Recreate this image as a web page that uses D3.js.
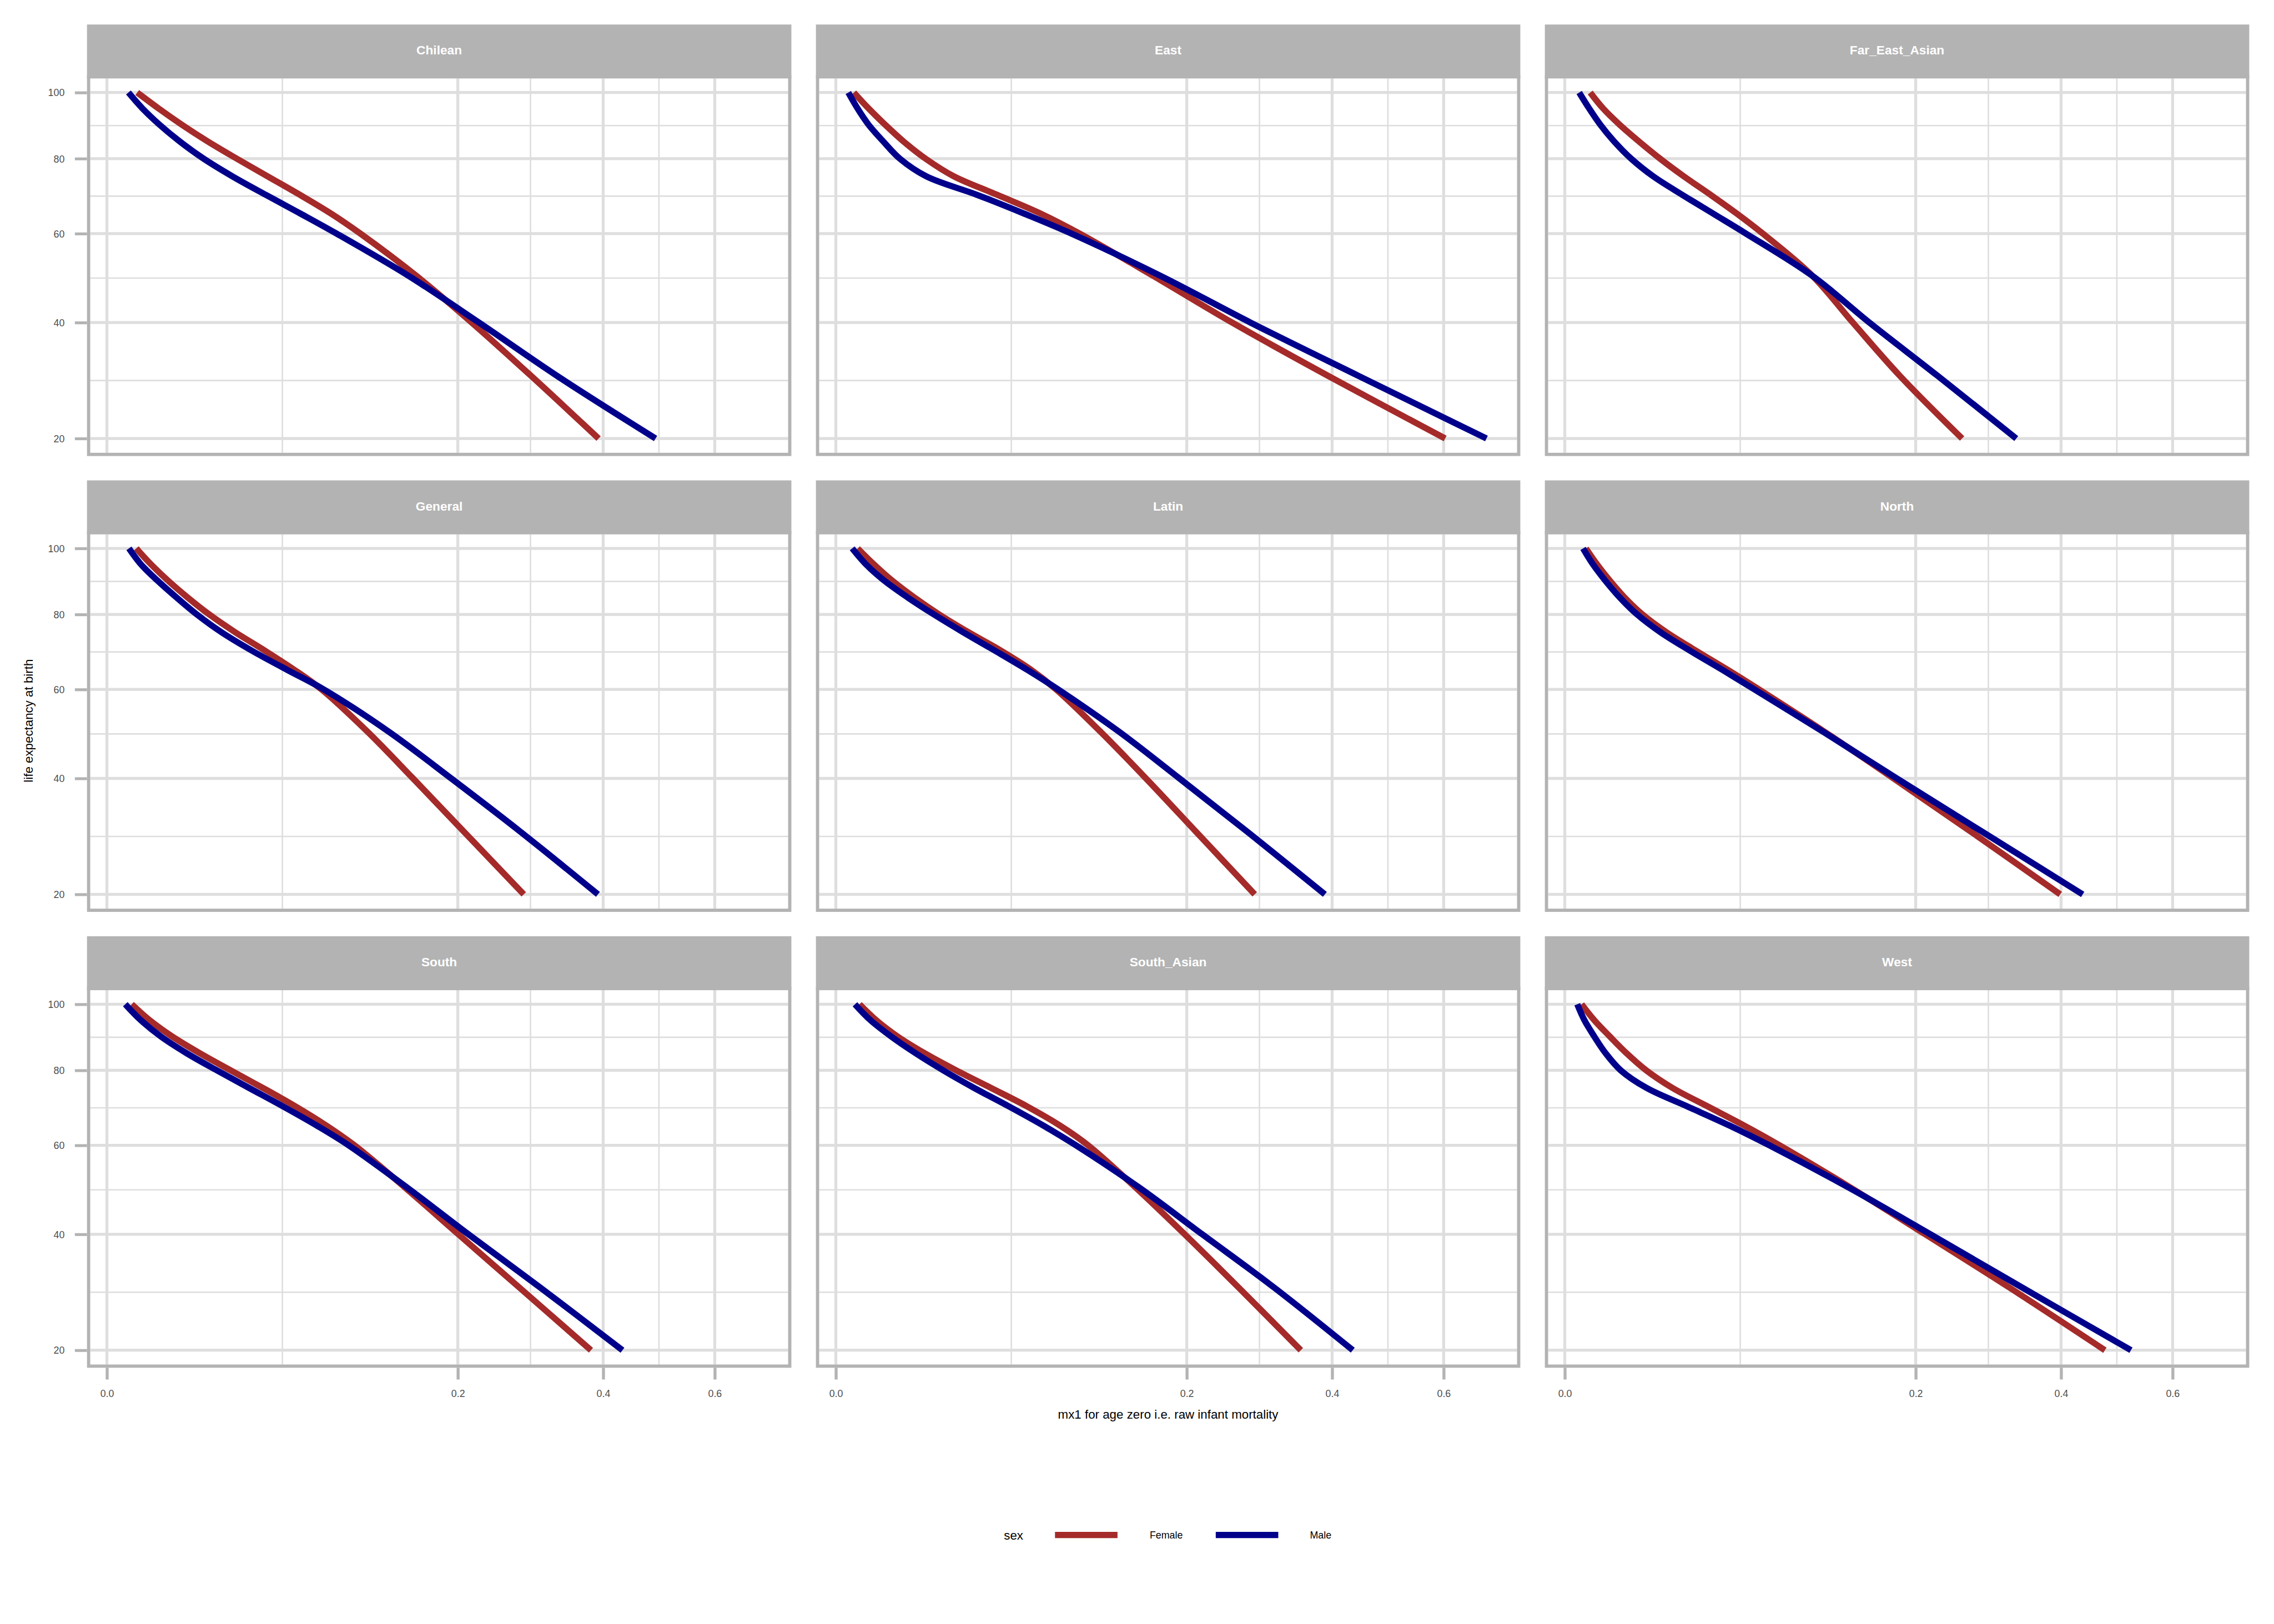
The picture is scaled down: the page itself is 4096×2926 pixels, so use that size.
<!DOCTYPE html>
<html>
<head>
<meta charset="utf-8">
<script src="https://cdn.jsdelivr.net/npm/d3@7"></script>
<style>
html,body{margin:0;padding:0;background:#ffffff;}
svg{display:block;}
</style>
</head>
<body>
<script>
// ---------------- data ----------------
const panels = ["Chilean","East","Far_East_Asian","General","Latin","North","South","South_Asian","West"];
const lifeExpectancy = [100,95,90,85,80,75,70,65,60,50,40,30,20];
const femaleMx = [
  [0.001493,0.004316,0.009099,0.01648,0.02734,0.04200,0.06044,0.08185,0.10437,0.15550,0.21617,0.29178,0.39265],
  [0.000526,0.001735,0.003934,0.007417,0.01304,0.02264,0.04222,0.06846,0.09659,0.16354,0.25505,0.39279,0.60295],
  [0.001051,0.002381,0.004880,0.008917,0.01472,0.02303,0.03449,0.04824,0.06371,0.09960,0.13474,0.18212,0.25636],
  [0.001402,0.003142,0.006037,0.01051,0.01702,0.02672,0.04051,0.05693,0.07485,0.11028,0.15220,0.20677,0.28222],
  [0.000776,0.002336,0.005128,0.009916,0.01736,0.02859,0.04426,0.06183,0.07887,0.11373,0.15624,0.21040,0.28496],
  [0.000728,0.001683,0.003281,0.005767,0.009809,0.01678,0.02790,0.04298,0.06130,0.10952,0.17562,0.26748,0.39863],
  [0.000998,0.002948,0.006883,0.01394,0.02484,0.03966,0.05782,0.07815,0.09952,0.14436,0.20064,0.27592,0.38056],
  [0.000911,0.002639,0.006165,0.01275,0.02350,0.03929,0.05947,0.08159,0.10340,0.14596,0.19761,0.26316,0.35113],
  [0.000459,0.001407,0.003281,0.006167,0.01078,0.01895,0.03319,0.05224,0.07499,0.13263,0.21100,0.32053,0.47374]
];
const maleMx = [
  [0.000752,0.002047,0.004491,0.008603,0.01516,0.02562,0.04093,0.06109,0.08567,0.14779,0.22484,0.32851,0.48886],
  [0.000253,0.000763,0.001735,0.003646,0.006633,0.01331,0.03230,0.05788,0.09016,0.17120,0.27925,0.44268,0.68751],
  [0.000337,0.000962,0.002050,0.003948,0.007137,0.01272,0.02240,0.03593,0.05335,0.09960,0.15065,0.22537,0.33104],
  [0.000789,0.001874,0.004142,0.007805,0.01315,0.02133,0.03410,0.05255,0.07645,0.12905,0.19255,0.27727,0.39161],
  [0.000434,0.001464,0.003788,0.008309,0.01562,0.02634,0.04107,0.05935,0.08025,0.13023,0.19173,0.27456,0.38840],
  [0.000542,0.001285,0.002658,0.004878,0.008501,0.01487,0.02543,0.04019,0.05850,0.10829,0.17904,0.28240,0.43562],
  [0.000548,0.001854,0.004702,0.01027,0.01962,0.03298,0.05048,0.07149,0.09492,0.14641,0.21223,0.30465,0.43169],
  [0.000592,0.001936,0.004946,0.01029,0.01874,0.03122,0.04870,0.06987,0.09363,0.14947,0.21799,0.31154,0.43400],
  [0.000253,0.000622,0.001407,0.002696,0.005087,0.01094,0.02444,0.04406,0.06797,0.13089,0.21716,0.33920,0.52062]
];
const xTicks = [0, 0.2, 0.4, 0.6];
const xTickLabels = ["0.0","0.2","0.4","0.6"];
const yTicks = [20, 40, 60, 80, 100];
const sexes = ["Female","Male"];
const sexColors = ["#A52A2A","#00008B"];
const xTitle = "mx1 for age zero i.e. raw infant mortality";
const yTitle = "life expectancy at birth";
const legendTitle = "sex";

// ---------------- layout (reference pixels, scaled by 0.975) ----------------
const S = 0.975;
const FONT = "'Liberation Sans', Arial, Helvetica, sans-serif";
const colPitch = 1346.65, rowPitch = 842.4;
const outerL = 160.7, outerW = 1301.3;
const stripTop = 45.3, stripBottom = 145, outerBottom = 842.7;
const bw = 6;
const innerL = outerL + bw, innerR = outerL + outerW - bw, innerB = outerBottom - bw;

const x = d3.scaleSqrt().domain([0, 0.6]).range([197.5, 1320.4]);
const y = d3.scaleSqrt().domain([20, 100]).range([810.3, 171]);

function sqrtMids(arr){
  const out = [];
  for (let i = 0; i < arr.length - 1; i++) {
    const m = (Math.sqrt(arr[i]) + Math.sqrt(arr[i+1])) / 2;
    out.push(m * m);
  }
  return out;
}
const xMinor = sqrtMids(xTicks);
const yMinor = sqrtMids(yTicks);

const svg = d3.select("body").append("svg")
  .attr("width", 4096).attr("height", 2926)
  .style("font-family", FONT);
svg.append("rect").attr("width", 4096).attr("height", 2926).attr("fill", "#ffffff");
const root = svg.append("g").attr("transform", `scale(${S})`);

const line = d3.line().curve(d3.curveCatmullRom.alpha(0.5));

panels.forEach((name, i) => {
  const col = i % 3, row = Math.floor(i / 3);
  const p = root.append("g").attr("transform", `translate(${col * colPitch},${row * rowPitch})`);

  // minor grid
  p.selectAll(".ymin").data(yMinor).join("line")
    .attr("x1", innerL).attr("x2", innerR)
    .attr("y1", d => y(d)).attr("y2", d => y(d))
    .attr("stroke", "#DEDEDE").attr("stroke-width", 2.7);
  p.selectAll(".xmin").data(xMinor).join("line")
    .attr("y1", stripBottom).attr("y2", innerB)
    .attr("x1", d => x(d)).attr("x2", d => x(d))
    .attr("stroke", "#DEDEDE").attr("stroke-width", 2.7);
  // major grid
  p.selectAll(".ymaj").data(yTicks).join("line")
    .attr("x1", innerL).attr("x2", innerR)
    .attr("y1", d => y(d)).attr("y2", d => y(d))
    .attr("stroke", "#DEDEDE").attr("stroke-width", 5.4);
  p.selectAll(".xmaj").data(xTicks).join("line")
    .attr("y1", stripBottom).attr("y2", innerB)
    .attr("x1", d => x(d)).attr("x2", d => x(d))
    .attr("stroke", "#DEDEDE").attr("stroke-width", 5.4);

  // series lines
  [femaleMx[i], maleMx[i]].forEach((vals, s) => {
    const pts = lifeExpectancy.map((le, j) => [x(vals[j]), y(le)]);
    p.append("path").attr("d", line(pts))
      .attr("fill", "none").attr("stroke", sexColors[s])
      .attr("stroke-width", 11.5).attr("stroke-linecap", "butt").attr("stroke-linejoin", "round");
  });

  // panel border
  p.append("rect")
    .attr("x", outerL + bw / 2).attr("y", stripBottom - bw - 0.5 + bw / 2)
    .attr("width", outerW - bw).attr("height", outerBottom - (stripBottom - bw - 0.5) - bw)
    .attr("fill", "none").attr("stroke", "#B3B3B3").attr("stroke-width", bw);

  // strip
  p.append("rect").attr("x", outerL).attr("y", stripTop)
    .attr("width", outerW).attr("height", stripBottom - stripTop)
    .attr("fill", "#B3B3B3");
  p.append("text").attr("x", outerL + outerW / 2).attr("y", 101)
    .attr("text-anchor", "middle").attr("fill", "#ffffff")
    .attr("font-weight", "bold").attr("font-size", 23.3).text(name);

  // y axis (left column)
  if (col === 0) {
    const ax = p.append("g").attr("transform", `translate(${outerL},0)`)
      .call(d3.axisLeft(y).tickValues(yTicks).tickSize(22.4).tickSizeOuter(0).tickPadding(19).tickFormat(d3.format("d")));
    ax.select(".domain").remove();
    ax.attr("font-family", FONT);
    ax.selectAll(".tick line").attr("stroke", "#B3B3B3").attr("stroke-width", 5.3);
    ax.selectAll(".tick text").attr("fill", "#4D4D4D").attr("font-size", 18.3).attr("dy", "0.35em");
  }
  // x axis (bottom row)
  if (row === 2) {
    const ax = p.append("g").attr("transform", `translate(0,${outerBottom})`)
      .call(d3.axisBottom(x).tickValues(xTicks).tickSize(21.7).tickSizeOuter(0).tickPadding(19.5)
        .tickFormat((d, k) => xTickLabels[k]));
    ax.select(".domain").remove();
    ax.attr("font-family", FONT);
    ax.selectAll(".tick line").attr("stroke", "#B3B3B3").attr("stroke-width", 5.5);
    ax.selectAll(".tick text").attr("fill", "#4D4D4D").attr("font-size", 18.3);
  }
});

// axis titles
root.append("text").attr("x", 2158).attr("y", 2622)
  .attr("text-anchor", "middle").attr("font-size", 22.9).attr("fill", "#000000").text(xTitle);
root.append("text").attr("transform", "translate(61,1332) rotate(-90)")
  .attr("text-anchor", "middle").attr("font-size", 22.9).attr("fill", "#000000").text(yTitle);

// legend
const leg = root.append("g");
leg.append("text").attr("x", 1854.6).attr("y", 2845).attr("font-size", 22.9).attr("fill", "#000000").text(legendTitle);
const keyX = [1949, 2246], labelX = [2124, 2420];
sexes.forEach((s, k) => {
  leg.append("line").attr("x1", keyX[k]).attr("x2", keyX[k] + 115.5)
    .attr("y1", 2836.5).attr("y2", 2836.5)
    .attr("stroke", sexColors[k]).attr("stroke-width", 11.6);
  leg.append("text").attr("x", labelX[k]).attr("y", 2843.5)
    .attr("font-size", 18.3).attr("fill", "#000000").text(s);
});
</script>
</body>
</html>
